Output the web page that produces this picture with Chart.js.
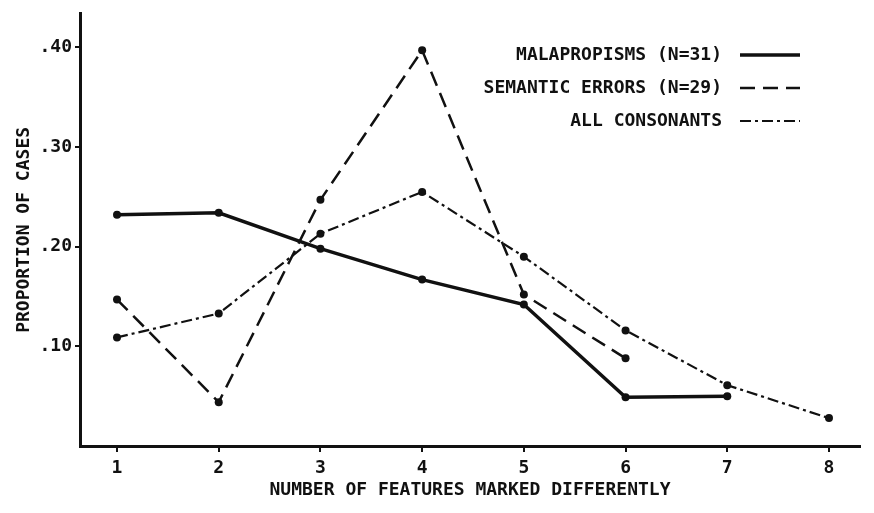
<!DOCTYPE html>
<html>
<head>
<meta charset="utf-8">
<script src="https://cdn.jsdelivr.net/npm/chart.js@4.4.1/dist/chart.umd.min.js"></script>
<style>
  html, body { margin:0; padding:0; background:#fff; }
  #wrap { width:874px; height:513px; }
</style>
</head>
<body>
<div id="wrap"><canvas id="chart" width="874" height="513"></canvas></div>
<script>
// values
const features = [1, 2, 3, 4, 5, 6, 7, 8];
const malapropisms = [0.232, 0.234, 0.198, 0.167, 0.142, 0.049, 0.050];
const semanticErrors = [0.147, 0.044, 0.247, 0.397, 0.152, 0.088];
const allConsonants = [0.109, 0.133, 0.213, 0.255, 0.190, 0.116, 0.061, 0.028];
const yTicks = [0.10, 0.20, 0.30, 0.40];
const seriesNames = ['MALAPROPISMS (N=31)', 'SEMANTIC ERRORS (N=29)', 'ALL CONSONANTS'];

const INK = '#111';
const FONT = {family:'"DejaVu Sans Mono", monospace', size:18, weight:'bold'};

const pts = arr => arr.map((v, i) => ({x: features[i], y: v}));

function line(label, values, width, dash){
  return {
    label, data: pts(values),
    borderColor: INK, backgroundColor: INK,
    borderWidth: width, borderDash: dash,
    pointRadius: 4, pointBorderWidth: 0, pointBackgroundColor: INK,
    tension: 0, fill: false
  };
}

// key sits inside the plot, text to the left of the line sample
const sideKey = {
  id: 'sideKey',
  afterDraw(chart, args, o){
    const ctx = chart.ctx;
    ctx.save();
    ctx.font = 'bold 18px "DejaVu Sans Mono", monospace';
    ctx.textAlign = 'right';
    ctx.textBaseline = 'middle';
    ctx.fillStyle = INK;
    chart.data.datasets.forEach((ds, i) => {
      const y = o.top + i*o.rowGap;
      ctx.fillText(ds.label, o.textRight, y);
      ctx.setLineDash(ds.borderDash || []);
      ctx.lineWidth = ds.borderWidth;
      ctx.strokeStyle = ds.borderColor;
      ctx.beginPath();
      ctx.moveTo(o.lineLeft, y);
      ctx.lineTo(o.lineRight, y);
      ctx.stroke();
    });
    ctx.restore();
  }
};

new Chart(document.getElementById('chart'), {
  type: 'line',
  data: {
    datasets: [
      line(seriesNames[0], malapropisms, 3.5, []),
      line(seriesNames[1], semanticErrors, 2.5, [15, 8]),
      line(seriesNames[2], allConsonants, 2.2, [11, 4, 3, 4])
    ]
  },
  plugins: [sideKey],
  options: {
    responsive: false,
    animation: false,
    devicePixelRatio: 1,
    layout: {padding: {top: 8, right: 14, left: 0, bottom: 0}},
    plugins: {
      legend: {display: false},
      tooltip: {enabled: false},
      sideKey: {top: 55, rowGap: 33, textRight: 722, lineLeft: 740, lineRight: 800}
    },
    scales: {
      x: {
        type: 'linear', min: 0.636, max: 8.305,
        afterFit: s => { s.height = 67; },
        afterBuildTicks: s => { s.ticks = features.map(v => ({value: v})); },
        ticks: {font: FONT, color: INK, padding: 6, maxRotation: 0, autoSkip: false},
        grid: {drawOnChartArea: false, tickLength: 6, color: INK, lineWidth: 2},
        border: {color: INK, width: 3},
        title: {display: true, text: 'NUMBER OF FEATURES MARKED DIFFERENTLY', font: FONT, color: INK, padding: {top: 0, bottom: 12}}
      },
      y: {
        min: 0, max: 0.4337,
        afterFit: s => { s.width = 80; },
        afterBuildTicks: s => { s.ticks = yTicks.map(v => ({value: v})); },
        ticks: {font: FONT, color: INK, padding: 3,
                callback: v => '.' + String(Math.round(v*100)).padStart(2, '0')},
        grid: {drawOnChartArea: false, tickLength: 5, color: INK, lineWidth: 2},
        border: {color: INK, width: 3},
        title: {display: true, text: 'PROPORTION OF CASES', font: FONT, color: INK, padding: {top: 14, bottom: 0}}
      }
    }
  }
});
</script>
</body>
</html>
